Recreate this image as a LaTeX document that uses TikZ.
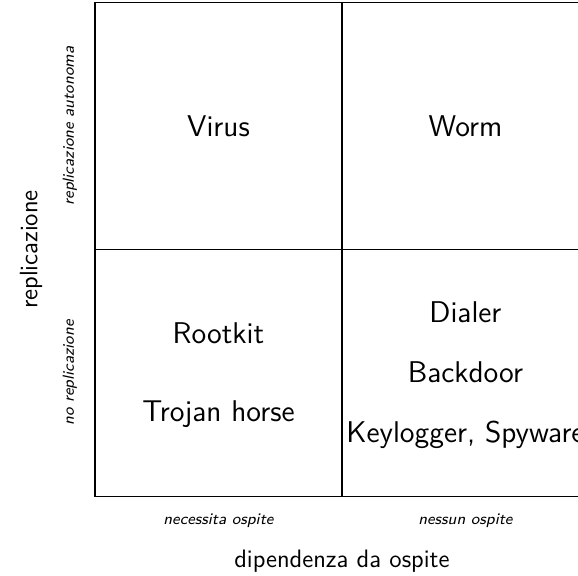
\documentclass[tikz,border=0pt]{standalone}
\usepackage{tikz}

\begin{document}
\begin{tikzpicture}
	[malware/.style={font=\sffamily\fontsize{15}{18}\selectfont, text height=1.6ex, text depth=0pt},
	axis/.style={font=\sffamily\fontsize{12.6}{15}\selectfont},
	level/.style={font=\sffamily\footnotesize\itshape}]
	\useasboundingbox (-1.669, -1.397) rectangle (8.488, 8.725);

	% the four quadrants
	\draw[semithick] (0, 0) rectangle (8.68, 8.68);
	\draw[semithick] (4.34, 0) -- (4.34, 8.68);
	\draw[semithick] (0, 4.34) -- (8.68, 4.34);

	% quadrant contents
	\node[malware] (virus) at (2.17, 6.44) {Virus};
	\node[malware] (worm) at (6.51, 6.44) {Worm};
	\node[malware] (rootkit) at (2.17, 2.81) {Rootkit};
	\node[malware] (trojan) at (2.17, 1.44) {Trojan horse};
	\node[malware] (dialer) at (6.51, 3.17) {Dialer};
	\node[malware] (backdoor) at (6.51, 2.12) {Backdoor};
	\node[malware] (keylogger) at (6.51, 1.07) {Keylogger, Spyware};

	% vertical axis
	\node[axis, rotate=90] (replica) at (-1.125, 4.34) {replicazione};
	\node[level, rotate=90] (autonoma) at (-0.439, 6.51) {replicazione autonoma};
	\node[level, rotate=90] (noreplica) at (-0.439, 2.17) {no replicazione};

	% horizontal axis
	\node[axis] (dipendenza) at (4.34, -1.14) {dipendenza da ospite};
	\node[level] (necessita) at (2.17, -0.43) {necessita ospite};
	\node[level] (nessun) at (6.51, -0.43) {nessun ospite};
\end{tikzpicture}
\end{document}
